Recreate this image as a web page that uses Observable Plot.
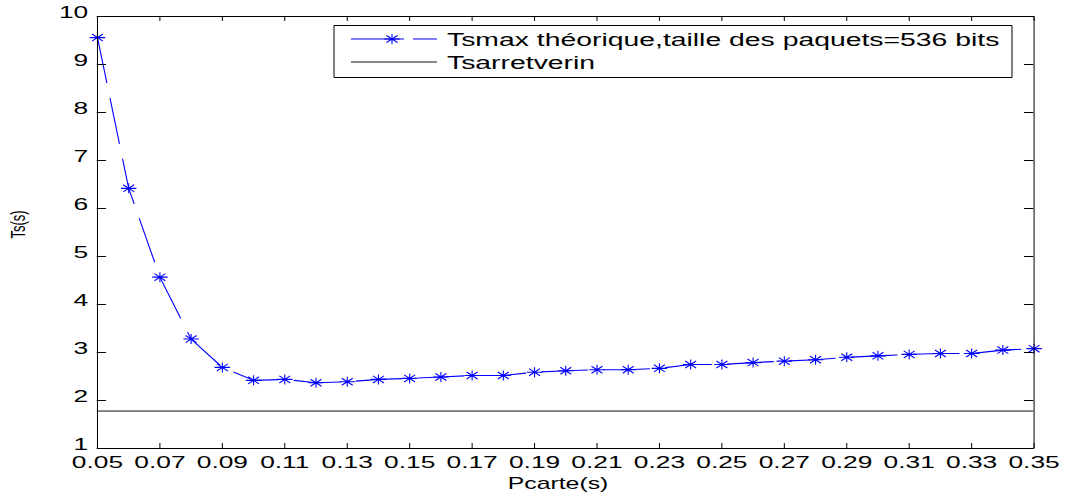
<!DOCTYPE html>
<html><head><meta charset="utf-8">
<script src="https://cdn.jsdelivr.net/npm/d3@7"></script>
<script src="https://cdn.jsdelivr.net/npm/@observablehq/plot@0.6"></script>
<style>
html,body{margin:0;padding:0;background:#fff;}
#chart{width:1066px;height:493px;overflow:hidden;}
#chart svg line, #chart svg path, #chart svg rect { vector-effect: non-scaling-stroke; }
</style></head><body><div id="chart"></div>
<script>
// ---- data ----
const pcarte = [0.05,0.06,0.07,0.08,0.09,0.10,0.11,0.12,0.13,0.14,0.15,0.16,0.17,0.18,0.19,0.20,
                0.21,0.22,0.23,0.24,0.25,0.26,0.27,0.28,0.29,0.30,0.31,0.32,0.33,0.34,0.35];
const tsmax = [9.56,6.42,4.57,3.28,2.69,2.42,2.44,2.37,2.39,2.44,2.46,2.49,2.52,2.52,2.59,2.62,
               2.64,2.64,2.67,2.75,2.75,2.79,2.82,2.85,2.90,2.93,2.96,2.98,2.98,3.05,3.08];
const tsArretVerin = 1.78;
const xTicks = [0.05,0.07,0.09,0.11,0.13,0.15,0.17,0.19,0.21,0.23,0.25,0.27,0.29,0.31,0.33,0.35];
const yTicks = [1,2,3,4,5,6,7,8,9,10];
const legendLabels = ["Tsmax théorique,taille des paquets=536 bits", "Tsarretverin"];
const xLabel = "Pcarte(s)";
const yLabel = "Ts(s)";

// ---- layout (drawn in a narrower space, then stretched horizontally) ----
const W = 1066, H = 493, PW = 688, SX = W / PW;
const mL = 96.7 / SX, mR = PW - 1033.3 / SX, mT = 16, mB = 45;
const innerW = PW - mL - mR, innerH = H - mT - mB;
const FONT = "'Liberation Sans', Arial, Helvetica, sans-serif";

const asterisk = {
  draw(ctx, size) {
    const r = Math.sqrt(size / Math.PI), d = r * Math.SQRT1_2;
    ctx.moveTo(-r, 0); ctx.lineTo(r, 0);
    ctx.moveTo(0, -r); ctx.lineTo(0, r);
    ctx.moveTo(-d, -d); ctx.lineTo(d, d);
    ctx.moveTo(-d, d); ctx.lineTo(d, -d);
  }
};

const data = pcarte.map((x, i) => ({x, y: tsmax[i]}));

const plot = Plot.plot({
  width: PW, height: H,
  marginLeft: mL, marginRight: mR, marginTop: mT, marginBottom: mB,
  style: {fontFamily: FONT, fontSize: "17px", background: "#fff", color: "#000", overflow: "visible"},
  x: {domain: [0.05, 0.35]},
  y: {domain: [1, 10]},
  marks: [
    Plot.ruleY([tsArretVerin], {stroke: "#111", strokeWidth: 1}),
    Plot.line(data, {x: "x", y: "y", stroke: "#0000ff", strokeWidth: 1.1, strokeDasharray: "46,16"}),
    Plot.dot(data, {x: "x", y: "y", symbol: asterisk, r: 5, stroke: "#0000ff", fill: "none", strokeWidth: 1.1}),
    Plot.tickX(xTicks, {x: d => d, insetTop: innerH - 5, stroke: "#000"}),
    Plot.tickX(xTicks, {x: d => d, insetBottom: innerH - 5, stroke: "#000"}),
    Plot.tickY(yTicks, {y: d => d, insetRight: innerW - 6, stroke: "#000"}),
    Plot.tickY(yTicks, {y: d => d, insetLeft: innerW - 6, stroke: "#000"}),
    Plot.axisX(xTicks, {tickSize: 0, tickPadding: 7, tickFormat: d3.format(".2f"), label: null}),
    Plot.axisY(yTicks, {tickSize: 0, tickPadding: 6, dy: -4, tickFormat: d3.format("d"), label: null}),
    Plot.frame({stroke: "#000", strokeWidth: 1}),
    Plot.text([xLabel], {text: d => d, frameAnchor: "bottom", dx: -5, dy: 35, fontSize: 16, lineAnchor: "middle"}),
    Plot.text([yLabel], {text: d => d, frameAnchor: "left", dx: -51, dy: 6, rotate: -90, fontSize: 13, lineAnchor: "middle"})
  ]
});

// ---- legend ----
const svg = d3.select(plot);
const lg = svg.append("g").attr("font-family", FONT).attr("font-size", 18.3).attr("text-anchor", "start");
const bx0 = 334 / SX, bx1 = 1012 / SX;
lg.append("rect").attr("x", bx0).attr("y", 25.5).attr("width", bx1 - bx0).attr("height", 52)
  .attr("fill", "#fff").attr("stroke", "#000").attr("stroke-width", 1);
const lx1 = 351 / SX, lx2 = 437 / SX, tx = 447 / SX;
lg.append("line").attr("x1", lx1).attr("x2", lx2).attr("y1", 39).attr("y2", 39)
  .attr("stroke", "#0000ff").attr("stroke-width", 1.1).attr("stroke-dasharray", "53,9");
lg.append("path").attr("transform", `translate(${392 / SX},39)`)
  .attr("d", d3.symbol(asterisk, 25 * Math.PI)())
  .attr("stroke", "#0000ff").attr("fill", "none").attr("stroke-width", 1.1);
lg.append("text").attr("x", tx).attr("y", 46.5).attr("text-anchor", "start").text(legendLabels[0]);
lg.append("line").attr("x1", lx1).attr("x2", lx2).attr("y1", 62).attr("y2", 62)
  .attr("stroke", "#111").attr("stroke-width", 1);
lg.append("text").attr("x", tx).attr("y", 69).attr("text-anchor", "start").text(legendLabels[1]);

// stretch horizontally
plot.setAttribute("width", W);
plot.setAttribute("height", H);
plot.setAttribute("viewBox", `0 0 ${PW} ${H}`);
plot.setAttribute("preserveAspectRatio", "none");
plot.style.width = W + "px";
plot.style.height = H + "px";
plot.style.maxWidth = "none";
document.getElementById("chart").appendChild(plot);
</script>
</body></html>
